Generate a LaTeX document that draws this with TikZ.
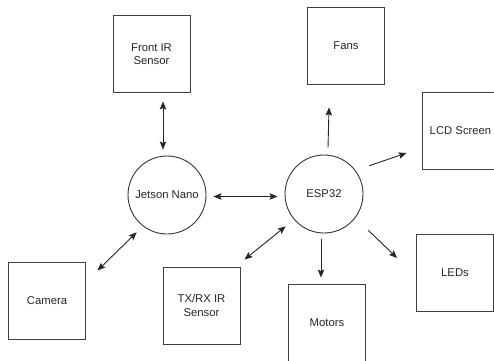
\documentclass[tikz,border=0pt]{standalone}
\usepackage{fontspec}
\setmainfont{Liberation Sans}
\usepackage{tikz}
\usetikzlibrary{shapes,arrows.meta}

\begin{document}
\begin{tikzpicture}[x=1pt,y=-1pt,
  box/.style={draw=black!75, line width=0.9pt, rectangle, minimum width=77pt, minimum height=77pt, align=center, text=black!85, font=\fontsize{11.3}{13.4}\selectfont},
  hub/.style={draw=black!80, line width=0.9pt, circle, minimum size=78pt, inner sep=0pt, text=black!85, font=\fontsize{11.3}{13.4}\selectfont},
  link/.style={draw=black!85, line width=0.9pt, {Stealth[length=8pt,width=6.5pt,inset=1.5pt]}-{Stealth[length=8pt,width=6.5pt,inset=1.5pt]}},
  feed/.style={draw=black!85, line width=0.9pt, -{Stealth[length=8pt,width=6.5pt,inset=1.5pt]}}
  ]
  \useasboundingbox (0,0) rectangle (494,360);

  % controllers
  \node[hub] (jet) at (167,195) {Jetson Nano};
  \node[hub] (esp) at (324,194) {ESP32};

  % parts
  \node[box] (front) at (151.5,54) {Front IR\\Sensor};
  \node[box] (cam) at (47,301) {Camera};
  \node[box] (txrx) at (201.5,305.5) {TX/RX IR\\Sensor};
  \node[box] (fans) at (346,45.5) {Fans};
  \node[box] (lcd) at (460.5,130.5) {LCD Screen};
  \node[box] (leds) at (455,273) {LEDs};
  \node[box] (motors) at (327,322.5) {Motors};

  % jetson side
  \draw[link] ([shift={(11.5,8.5)}]front.south) -- ([shift={(-4,-6)}]jet.north);
  \draw[link] ([shift={(11.5,8.5)}]cam.north east) -- ([shift={(-2.4,9.4)}]jet.south west);
  \draw[link] ([shift={(7,1.5)}]jet.east) -- ([shift={(-7,2.5)}]esp.west);

  % esp32 side
  \draw[link] ([shift={(4,-7)}]txrx.north east) -- ([shift={(-10.4,4.4)}]esp.south west);
  \draw[feed] ([shift={(4,-7)}]esp.north) -- ([shift={(-17,23)}]fans.south);
  \draw[feed] ([shift={(17.4,-0.4)}]esp.north east) -- ([shift={(-15,22.5)}]lcd.west);
  \draw[feed] ([shift={(-3,6)}]esp.south) -- ([shift={(-6,-6)}]motors.north);
  \draw[feed] ([shift={(16.4,8.4)}]esp.south east) -- ([shift={(-19,-15)}]leds.west);

\end{tikzpicture}
\end{document}
